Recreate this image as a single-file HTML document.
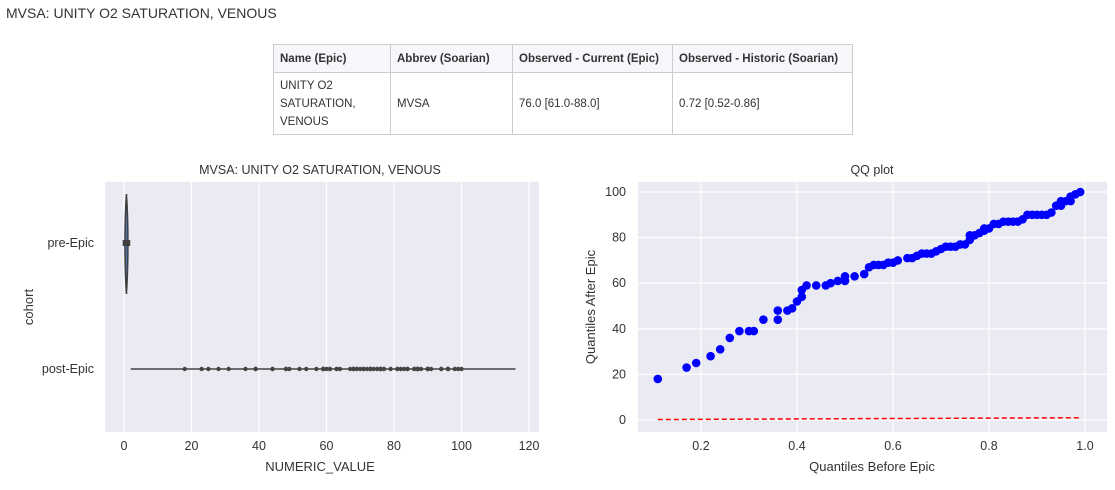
<!DOCTYPE html>
<html><head><meta charset="utf-8"><style>
body{margin:0;background:#fff;width:1115px;height:490px;overflow:hidden;font-family:"Liberation Sans",sans-serif;position:relative}
#title{position:absolute;left:6px;top:5px;font-size:14px;color:#333}
table{position:absolute;left:273px;top:44px;border-collapse:collapse;font-size:11.5px;color:#333}
td,th{border:1px solid #ccc;padding:0 6px;text-align:left;vertical-align:middle;line-height:18px}
th{height:27px;font-weight:bold;background:#f7f7fb}
td{height:61px}
svg{position:absolute;left:0;top:0}
</style></head><body>
<div id="title">MVSA: UNITY O2 SATURATION, VENOUS</div>
<table>
<tr><th style="width:104px">Name (Epic)</th><th style="width:109px">Abbrev (Soarian)</th><th style="width:147px">Observed - Current (Epic)</th><th style="width:167px">Observed - Historic (Soarian)</th></tr>
<tr><td>UNITY O2<br>SATURATION,<br>VENOUS</td><td>MVSA</td><td>76.0 [61.0-88.0]</td><td>0.72 [0.52-0.86]</td></tr>
</table>
<svg id="chart" width="1115" height="490"></svg>
<script>
const qqX=[0.11,0.17,0.19,0.22,0.24,0.26,0.28,0.30,0.31,0.33,0.36,0.36,0.38,0.39,0.40,0.41,0.41,0.42,0.44,0.46,0.47,0.485,0.50,0.50,0.52,0.54,0.55,0.56,0.57,0.58,0.59,0.60,0.61,0.63,0.64,0.65,0.66,0.67,0.68,0.69,0.70,0.71,0.72,0.73,0.74,0.75,0.76,0.76,0.77,0.78,0.79,0.79,0.80,0.81,0.82,0.83,0.84,0.85,0.86,0.87,0.88,0.89,0.90,0.91,0.92,0.93,0.94,0.95,0.95,0.96,0.97,0.97,0.98,0.99];
const qqY=[18,23,25,28,31,36,39,39,39,44,44,48,48,49,52,54,57,59,59,59,60,61,61,63,63,64,67,68,68,68,69,69,70,71,71,72,73,73,73,74,75,76,76,76,77,77,79,81,81,82,83,84,84,86,86,87,87,87,87,88,90,90,90,90,90,91,94,94,96,96,96,98,99,100];
const refX=[0.11,0.99];
const refY=[0.2,1.0];
const leftTicks=[0,20,40,60,80,100,120];
const rightXTicks=[0.2,0.4,0.6,0.8,1.0];
const rightYTicks=[0,20,40,60,80,100];
const cohorts=['pre-Epic','post-Epic'];
const preRange=[0.5,0.95];
const postRange=[2,116];

const NS='http://www.w3.org/2000/svg';
const svg=document.getElementById('chart');
function el(t,a,txt){const e=document.createElementNS(NS,t);for(const k in a)e.setAttribute(k,a[k]);if(txt!==undefined)e.textContent=txt;svg.appendChild(e);return e;}
const lx=v=>124+v*3.375;
const cy=i=>243+i*126;
const rx=v=>605+v*480;
const ry=v=>420-v*2.28;

// left plot
let bg=el('rect',{x:105,y:182,width:434,height:250,fill:'#eaeaf2'});

leftTicks.forEach(t=>{el('line',{x1:lx(t),x2:lx(t),y1:182,y2:432,stroke:'#fff','stroke-width':1.2});
 let tx=el('text',{x:lx(t),y:450,'font-size':12.5,fill:'#333','text-anchor':'middle'},t);
 });
cohorts.forEach((c,i)=>{let tx=el('text',{x:94,y:cy(i)+4,'font-size':12.5,fill:'#333','text-anchor':'end'},c);
 });
// pre-Epic violin
let vp=el('path',{d:`M${lx(0.72)} ${cy(0)-49} C${lx(0.72)+2} ${cy(0)-20},${lx(0.72)+2} ${cy(0)+20},${lx(0.72)} ${cy(0)+51} C${lx(0.72)-2} ${cy(0)+20},${lx(0.72)-2} ${cy(0)-20},${lx(0.72)} ${cy(0)-49}Z`,fill:'#4c72b0',stroke:'#3f3f3f','stroke-width':1.5});

el('rect',{x:lx(preRange[0])-3,y:cy(0)-3,width:(lx(preRange[1])-lx(preRange[0]))+6,height:6,fill:'#3f3f3f'});
// post-Epic
let wl=el('line',{x1:lx(postRange[0]),x2:lx(postRange[1]),y1:cy(1),y2:cy(1),stroke:'#444','stroke-width':1.5});

qqY.forEach(v=>{let c=el('circle',{cx:lx(v),cy:cy(1),r:2.2,fill:'#444'});
 });
let t1=el('text',{x:320,y:174,'font-size':12.5,fill:'#333','text-anchor':'middle'},'MVSA: UNITY O2 SATURATION, VENOUS');

let xl=el('text',{x:320,y:471,'font-size':13,fill:'#333','text-anchor':'middle'},'NUMERIC_VALUE');

let yl=el('text',{x:0,y:0,'font-size':13,fill:'#333','text-anchor':'middle',transform:'translate(33,307) rotate(-90)'},'cohort');


// right plot
let bg2=el('rect',{x:638,y:182,width:469,height:250,fill:'#eaeaf2'});

rightXTicks.forEach(t=>{el('line',{x1:rx(t),x2:rx(t),y1:182,y2:432,stroke:'#fff','stroke-width':1.2});
 let tx=el('text',{x:rx(t),y:450,'font-size':12.5,fill:'#333','text-anchor':'middle'},t.toFixed(1));
 });
rightYTicks.forEach(t=>{el('line',{x1:638,x2:1107,y1:ry(t),y2:ry(t),stroke:'#fff','stroke-width':1.2});
 let tx=el('text',{x:626,y:ry(t)+4,'font-size':12.5,fill:'#333','text-anchor':'end'},t);
 });
qqX.forEach((x,i)=>{let c=el('circle',{cx:rx(x),cy:ry(qqY[i]),r:4.3,fill:'#0000ff'});
 });
let rl=el('line',{x1:rx(refX[0]),x2:rx(refX[1]),y1:ry(refY[0]),y2:ry(refY[1]),stroke:'#ff0000','stroke-width':1.5,'stroke-dasharray':'5,3'});

let t2=el('text',{x:872,y:174,'font-size':12.5,fill:'#333','text-anchor':'middle'},'QQ plot');

let xl2=el('text',{x:872,y:471,'font-size':13,fill:'#333','text-anchor':'middle'},'Quantiles Before Epic');

let yl2=el('text',{x:0,y:0,'font-size':13,fill:'#333','text-anchor':'middle',transform:'translate(595,307) rotate(-90)'},'Quantiles After Epic');

</script>
</body></html>
